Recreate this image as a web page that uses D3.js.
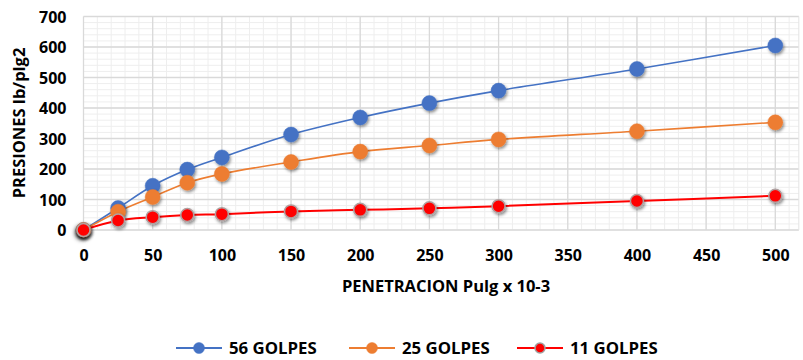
<!DOCTYPE html>
<html><head><meta charset="utf-8">
<script src="https://cdn.jsdelivr.net/npm/d3@7"></script>
<style>
html,body{margin:0;padding:0;background:#fff;}
svg{display:block;font-family:"Open Sans",sans-serif;font-weight:700;}
</style></head>
<body><svg id="c" width="803" height="360"></svg>
<script>
const penetration = [0, 25, 50, 75, 100, 150, 200, 250, 300, 400, 500];
const golpes56 = [0, 72, 145, 198, 238, 313, 369, 416, 457, 528, 605];
const golpes25 = [0, 60, 108, 155, 184, 223, 257, 277, 297, 324, 353];
const golpes11 = [0, 31, 42, 49, 52, 61, 66, 71, 78, 95, 112];
const seriesNames = ["56 GOLPES", "25 GOLPES", "11 GOLPES"];
const seriesColors = ["#4472C4", "#ED7D31", "#FF0000"];
const xTicks = [0, 50, 100, 150, 200, 250, 300, 350, 400, 450, 500];
const yTicks = [0, 100, 200, 300, 400, 500, 600, 700];
const xTitle = "PENETRACION Pulg x 10-3";
const yTitle = "PRESIONES lb/plg2";

const svg = d3.select("#c");
const x = d3.scaleLinear().domain([0, 517]).range([83.5, 83.5 + 517 * 1.3836]);
const y = d3.scaleLinear().domain([0, 700]).range([230, 16.5]);

const defs = svg.append("defs");
const f = defs.append("filter").attr("id", "sh").attr("x", "-50%").attr("y", "-50%").attr("width", "200%").attr("height", "200%");
f.append("feDropShadow").attr("dx", 1.2).attr("dy", 1.8).attr("stdDeviation", 1.4).attr("flood-color", "#000").attr("flood-opacity", 0.45);
const f2 = defs.append("filter").attr("id", "sh2").attr("x", "-100%").attr("y", "-100%").attr("width", "300%").attr("height", "300%");
f2.append("feDropShadow").attr("dx", -1).attr("dy", 2.5).attr("stdDeviation", 2.2).attr("flood-color", "#000").attr("flood-opacity", 0.9);

// grid
const g = svg.append("g");
const minorX = d3.range(0, 517, 10);
const minorY = d3.range(0, 701, 20);
g.selectAll(".mx").data(minorX).join("line")
  .attr("x1", d => x(d)).attr("x2", d => x(d)).attr("y1", y(700)).attr("y2", y(0))
  .attr("stroke", "#eeeeee").attr("stroke-width", 1);
g.selectAll(".my").data(minorY).join("line")
  .attr("x1", x(0)).attr("x2", x(517)).attr("y1", d => y(d)).attr("y2", d => y(d))
  .attr("stroke", "#eeeeee").attr("stroke-width", 1);
g.selectAll(".Mx").data(xTicks).join("line")
  .attr("x1", d => x(d)).attr("x2", d => x(d)).attr("y1", y(700)).attr("y2", y(0))
  .attr("stroke", "#d9d9d9").attr("stroke-width", 1.3);
g.selectAll(".My").data(yTicks).join("line")
  .attr("x1", x(0)).attr("x2", x(517)).attr("y1", d => y(d)).attr("y2", d => y(d))
  .attr("stroke", "#d9d9d9").attr("stroke-width", 1.3);
g.append("line").attr("x1", x(517)).attr("x2", x(517)).attr("y1", y(700)).attr("y2", y(0))
  .attr("stroke", "#e4e4e4");

// axes
const xAxis = d3.axisBottom(x).tickValues(xTicks).tickSize(0).tickPadding(0);
const xa = svg.append("g").attr("transform", `translate(0,${y(0)})`).call(xAxis);
xa.select(".domain").remove();
xa.selectAll("text").attr("dy", null).attr("y", 31).attr("font-size", 16).attr("font-family", "Open Sans").attr("font-weight", 700).attr("fill", "#000");

const yAxis = d3.axisLeft(y).tickValues(yTicks).tickSize(0).tickPadding(0);
const ya = svg.append("g").attr("transform", `translate(${x(0)},0)`).call(yAxis);
ya.select(".domain").remove();
ya.selectAll("text").attr("x", -17).attr("dy", "0.36em").attr("font-size", 16).attr("font-family", "Open Sans").attr("font-weight", 700).attr("fill", "#000");

svg.append("text").attr("x", 446).attr("y", 292).attr("text-anchor", "middle")
  .attr("font-size", 16.5).text(xTitle);
svg.append("text").attr("transform", "translate(25,123) rotate(-90)").attr("text-anchor", "middle")
  .attr("font-size", 16.5).text(yTitle);

// series
const allSeries = [golpes56, golpes25, golpes11];
const line = d3.line().x((d, i) => x(penetration[i])).y(d => y(d)).curve(d3.curveCatmullRom.alpha(0.5));
allSeries.forEach((vals, s) => {
  svg.append("path").datum(vals).attr("d", line).attr("fill", "none")
    .attr("stroke", seriesColors[s]).attr("stroke-width", s === 2 ? 2 : 1.6);
});
allSeries.forEach((vals, s) => {
  svg.append("g").selectAll("circle").data(vals).join("circle")
    .attr("cx", (d, i) => x(penetration[i])).attr("cy", d => y(d))
    .attr("r", s === 2 ? 6.5 : 7.5)
    .attr("fill", seriesColors[s])
    .attr("stroke", s === 2 ? "#b0a0a0" : seriesColors[s]).attr("stroke-width", s === 2 ? 1.5 : 0.5)
    .attr("filter", (d, i) => (s === 2 && i === 0) ? "url(#sh2)" : "url(#sh)");
});

// legend
const legX = [176, 349, 517];
const leg = svg.append("g");
seriesNames.forEach((n, s) => {
  const lx = legX[s];
  leg.append("line").attr("x1", lx).attr("x2", lx + 46).attr("y1", 348).attr("y2", 348)
    .attr("stroke", seriesColors[s]).attr("stroke-width", 2);
  leg.append("circle").attr("cx", lx + 23).attr("cy", 348).attr("r", s === 2 ? 5 : 5.5)
    .attr("fill", seriesColors[s]).attr("stroke", s === 2 ? "#a0a0a0" : seriesColors[s]).attr("stroke-width", s === 2 ? 1.5 : 0.5);
  leg.append("text").attr("x", lx + 53).attr("y", 354).attr("font-size", 16.8).text(n);
});
</script></body></html>
